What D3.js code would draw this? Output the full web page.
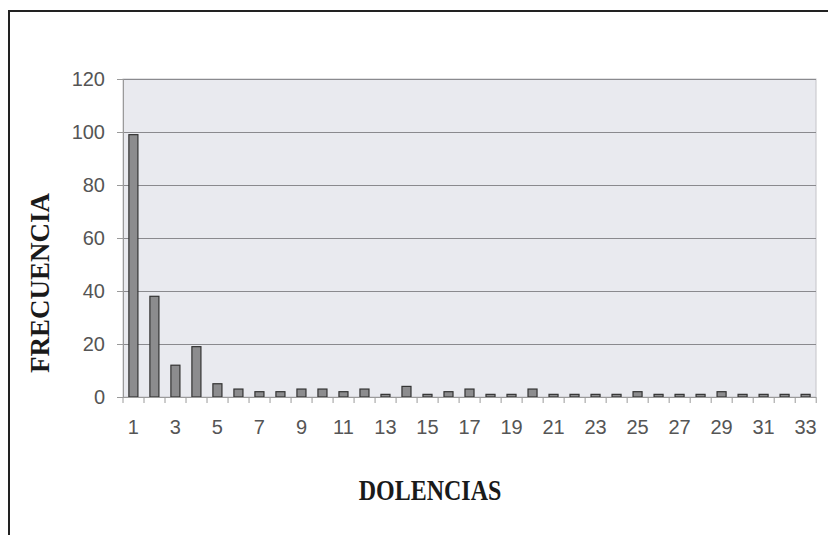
<!DOCTYPE html>
<html>
<head>
<meta charset="utf-8">
<script src="https://cdn.jsdelivr.net/npm/d3@7"></script>
<style>
  body { margin: 0; background: #fff; }
  svg { display: block; }
</style>
</head>
<body>
<div id="chart"></div>
<script>
// dolencias 1..33 and how often each one shows up
const categories = d3.range(1, 34);
const frecuencia = [99, 38, 12, 19, 5, 3, 2, 2, 3, 3, 2, 3, 1, 4, 1, 2, 3, 1, 1, 3,
                    1, 1, 1, 1, 2, 1, 1, 1, 2, 1, 1, 1, 1];
const yTicks = [0, 20, 40, 60, 80, 100, 120];
const xLabels = categories.filter((d) => d % 2 === 1);

const width = 828, height = 535;
const plot = { left: 123, right: 816, top: 79, bottom: 397 };

const svg = d3.select("#chart").append("svg")
  .attr("width", width)
  .attr("height", height);

// outer frame
svg.append("rect")
  .attr("x", 9).attr("y", 11)
  .attr("width", width).attr("height", height)
  .attr("fill", "none")
  .attr("stroke", "#222")
  .attr("stroke-width", 2);

const x = d3.scaleBand()
  .domain(categories)
  .range([plot.left, plot.right])
  .paddingInner(0.57)
  .paddingOuter(0.28);

const y = d3.scaleLinear()
  .domain([0, 120])
  .range([plot.bottom, plot.top]);

// plot background
svg.append("rect")
  .attr("x", plot.left).attr("y", plot.top)
  .attr("width", plot.right - plot.left)
  .attr("height", plot.bottom - plot.top)
  .attr("fill", "#e9eaef")
  .attr("stroke", "#c4c4c8");

// gridlines
svg.append("g")
  .selectAll("line")
  .data(yTicks.slice(1))
  .join("line")
  .attr("x1", plot.left).attr("x2", plot.right)
  .attr("y1", (d) => y(d) + 0.5).attr("y2", (d) => y(d) + 0.5)
  .attr("stroke", "#8a8a8e")
  .attr("stroke-width", 1);

const labelFont = "Liberation Sans, Arial, sans-serif";

// y axis
const yAxis = svg.append("g")
  .attr("transform", `translate(${plot.left},0)`)
  .call(d3.axisLeft(y).tickValues(yTicks).tickSize(6).tickPadding(12));
yAxis.select(".domain").attr("stroke", "#9a9a9a");
yAxis.selectAll(".tick line").attr("stroke", "#9a9a9a");
yAxis.selectAll("text")
  .attr("font-family", labelFont)
  .attr("font-size", 20)
  .attr("fill", "#555");

// bars
svg.append("g")
  .selectAll("rect")
  .data(frecuencia)
  .join("rect")
  .attr("x", (d, i) => x(categories[i]))
  .attr("y", (d) => y(d))
  .attr("width", x.bandwidth())
  .attr("height", (d) => y(0) - y(d))
  .attr("fill", "#8c8c8e")
  .attr("stroke", "#333")
  .attr("stroke-width", 1.2);

// x axis: ticks between categories, odd labels only
const step = x.step();
const xAxis = svg.append("g")
  .attr("transform", `translate(0,${plot.bottom})`);
xAxis.append("line")
  .attr("x1", plot.left).attr("x2", plot.right)
  .attr("y1", 0.5).attr("y2", 0.5)
  .attr("stroke", "#9a9a9a");
xAxis.selectAll(".tick")
  .data(d3.range(categories.length + 1))
  .join("line")
  .attr("class", "tick")
  .attr("x1", (i) => plot.left + i * step)
  .attr("x2", (i) => plot.left + i * step)
  .attr("y1", 0).attr("y2", 6)
  .attr("stroke", "#9a9a9a");
xAxis.selectAll("text")
  .data(xLabels)
  .join("text")
  .attr("x", (d) => x(d) + x.bandwidth() / 2)
  .attr("y", 37)
  .attr("text-anchor", "middle")
  .attr("font-family", labelFont)
  .attr("font-size", 20)
  .attr("fill", "#555")
  .text((d) => d);

// axis titles (the scan is a bit stretched vertically)
svg.append("text")
  .attr("transform", `translate(49,283) rotate(-90)`)
  .attr("text-anchor", "middle")
  .attr("font-family", "Liberation Serif, Times New Roman, serif")
  .attr("font-weight", "bold")
  .attr("font-size", 27)
  .attr("fill", "#1a1a1a")
  .text("FRECUENCIA");

svg.append("text")
  .attr("transform", `translate(430,500) scale(1,1.2)`)
  .attr("text-anchor", "middle")
  .attr("font-family", "Liberation Serif, Times New Roman, serif")
  .attr("font-weight", "bold")
  .attr("font-size", 24)
  .attr("fill", "#1a1a1a")
  .text("DOLENCIAS");
</script>
</body>
</html>
